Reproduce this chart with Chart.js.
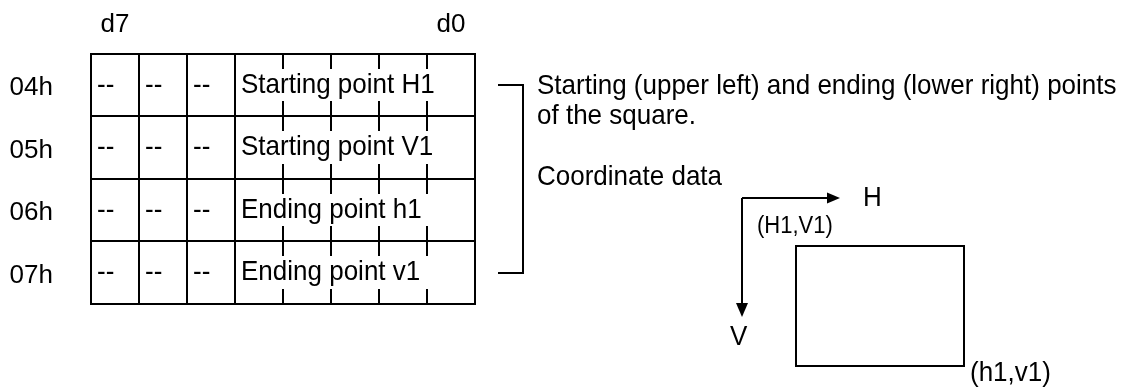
<!DOCTYPE html>
<html>
<head>
<meta charset="utf-8">
<script src="https://cdn.jsdelivr.net/npm/chart.js@4"></script>
<style>
    body { margin: 0; background: #fff; }
    #wrap { width: 1146px; height: 387px; }
</style>
</head>
<body>
<div id="wrap"><canvas id="container"></canvas></div>
<script>
"use strict";

// register table
const registers = ["04h", "05h", "06h", "07h"];
const bits = ["d7", "d6", "d5", "d4", "d3", "d2", "d1", "d0"];
const shownBits = ["d7", "d0"];
const fieldBits = [1, 1, 1, 5];
const fieldNames = [
    ["--", "--", "--", "Starting point H1"],
    ["--", "--", "--", "Starting point V1"],
    ["--", "--", "--", "Ending point h1"],
    ["--", "--", "--", "Ending point v1"]
];

// notes on the right
const noteLines = ["Starting (upper left) and ending (lower right) points", "of the square."];
const coordTitle = "Coordinate data";
const axisNames = ["H", "V"];
const cornerNames = ["(H1,V1)", "(h1,v1)"];

const FONT = "'Liberation Sans', Arial, Helvetica, sans-serif";

// one point per field, at the field's first bit
const fieldPoints = [];
registers.forEach((reg, r) => {
    let start = 0;
    fieldBits.forEach((n, f) => {
        fieldPoints.push({ x: start, y: r, text: fieldNames[r][f], span: n });
        start += n;
    });
});

function line(ctx, x0, y0, x1, y1) {
    ctx.beginPath();
    ctx.moveTo(x0, y0);
    ctx.lineTo(x1, y1);
    ctx.stroke();
}

// text a little taller than wide, like the scan
function tallText(ctx, txt, x, y) {
    ctx.save();
    ctx.translate(x, y);
    ctx.scale(1, 1.07);
    ctx.fillText(txt, 0, 0);
    ctx.restore();
}

function arrowHead(ctx, x, y, dir) {
    // dir: "right" or "down", tip at x,y
    ctx.beginPath();
    if (dir === "right") {
        ctx.moveTo(x, y);
        ctx.lineTo(x - 13, y - 5.5);
        ctx.lineTo(x - 13, y + 5.5);
    } else {
        ctx.moveTo(x, y);
        ctx.lineTo(x - 6, y - 14);
        ctx.lineTo(x + 6, y - 14);
    }
    ctx.closePath();
    ctx.fill();
}

const tablePlugin = {
    id: "registerTable",
    afterDraw(chart) {
        const ctx = chart.ctx;
        const xs = chart.scales.x, ys = chart.scales.y;
        const edge = i => Math.round(xs.getPixelForValue(i - 0.5));
        const rowEdge = r => Math.round(ys.getPixelForValue(r - 0.5));
        const tick = 15;

        ctx.save();
        ctx.strokeStyle = "#000";
        ctx.fillStyle = "#000";
        ctx.lineWidth = 2;
        ctx.lineCap = "square";

        const left = edge(0), right = edge(bits.length);
        const top = rowEdge(0), bottom = rowEdge(registers.length);

        // outer frame and row lines
        for (let r = 0; r <= registers.length; r++) line(ctx, left, rowEdge(r), right, rowEdge(r));
        line(ctx, left, top, left, bottom);
        line(ctx, right, top, right, bottom);

        // field borders and bit ticks
        ctx.lineCap = "butt";
        registers.forEach((reg, r) => {
            const y0 = rowEdge(r), y1 = rowEdge(r + 1);
            let start = 0;
            fieldBits.forEach((n, f) => {
                if (start > 0) line(ctx, edge(start), y0, edge(start), y1);
                for (let b = start + 1; b < start + n; b++) {
                    line(ctx, edge(b), y0, edge(b), y0 + tick);
                    line(ctx, edge(b), y1 - tick, edge(b), y1);
                }
                start += n;
            });
        });

        // field texts
        ctx.font = "26px " + FONT;
        ctx.textBaseline = "middle";
        ctx.textAlign = "left";
        fieldPoints.forEach(p => {
            tallText(ctx, p.text, edge(p.x) + 6, ys.getPixelForValue(p.y));
        });

        // bracket over the rows
        const bx0 = right + 23, bx1 = right + 48;
        const byTop = Math.round(ys.getPixelForValue(0));
        const byBot = Math.round(ys.getPixelForValue(registers.length - 1));
        ctx.beginPath();
        ctx.moveTo(bx0, byTop);
        ctx.lineTo(bx1, byTop);
        ctx.lineTo(bx1, byBot);
        ctx.lineTo(bx0, byBot);
        ctx.stroke();

        // note text
        const tx = right + 62;
        tallText(ctx, noteLines[0], tx, byTop + 1);
        tallText(ctx, noteLines[1], tx, byTop + 31);
        tallText(ctx, coordTitle, tx, 177);

        // coordinate sketch
        const ox = 742, oy = 198;
        line(ctx, ox, oy, 830, oy);
        arrowHead(ctx, 840, oy, "right");
        line(ctx, ox, oy, ox, 305);
        arrowHead(ctx, ox, 317, "down");
        tallText(ctx, axisNames[0], 863, oy);
        tallText(ctx, axisNames[1], 730, 337);

        ctx.strokeRect(796, 246, 168, 120);
        ctx.font = "22px " + FONT;
        tallText(ctx, cornerNames[0], 757, 227);
        ctx.font = "26px " + FONT;
        tallText(ctx, cornerNames[1], 970, 373);

        ctx.restore();
    }
};

const ctx = document.getElementById("container").getContext("2d");
const regChart = new Chart(ctx, {
    type: "scatter",
    data: {
        datasets: [{
            label: "fields",
            data: fieldPoints,
            pointRadius: 0,
            pointHoverRadius: 0,
            showLine: false
        }]
    },
    options: {
        responsive: true,
        maintainAspectRatio: false,
        animation: false,
        events: [],
        layout: {
            padding: { left: 0, top: 0, right: 671, bottom: 83 }
        },
        plugins: {
            legend: { display: false },
            tooltip: { enabled: false }
        },
        scales: {
            x: {
                type: "category",
                labels: bits,
                position: "top",
                offset: true,
                grid: { display: false, drawTicks: false },
                border: { display: false },
                ticks: {
                    color: "#000",
                    font: { family: FONT, size: 26 },
                    padding: 13,
                    maxRotation: 0,
                    autoSkip: false,
                    callback: function (v) {
                        const lab = bits[v];
                        return shownBits.includes(lab) ? lab : "";
                    }
                },
                afterFit: s => { s.height = 53; }
            },
            y: {
                type: "category",
                labels: registers,
                offset: true,
                grid: { display: false, drawTicks: false },
                border: { display: false },
                ticks: {
                    color: "#000",
                    font: { family: FONT, size: 26 },
                    padding: 38,
                    labelOffset: 3,
                    autoSkip: false
                },
                afterFit: s => { s.width = 91; }
            }
        }
    },
    plugins: [tablePlugin]
});
</script>
</body>
</html>
